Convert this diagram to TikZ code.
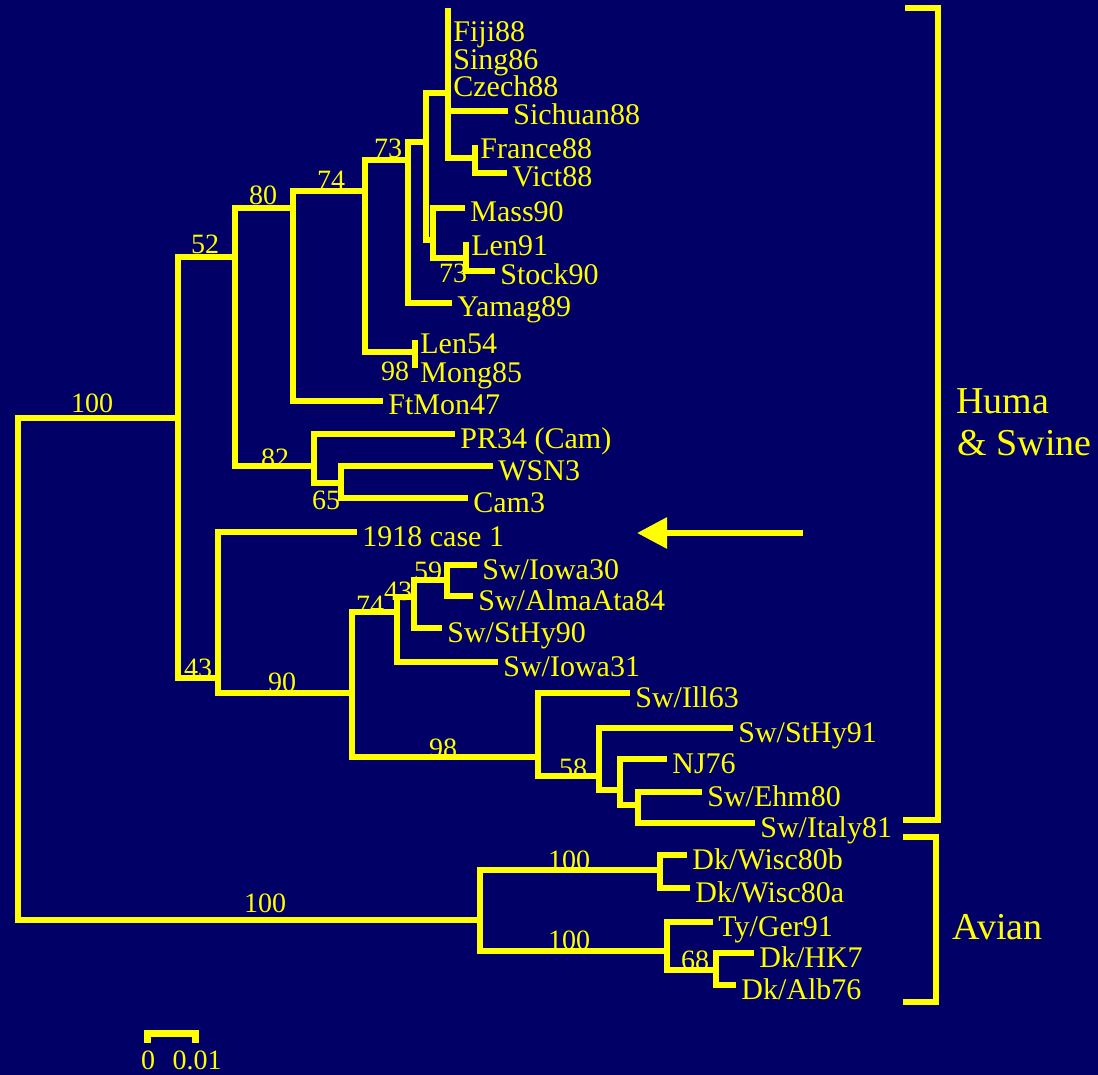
\documentclass[tikz,border=0pt]{standalone}
\usepackage{fontspec}
\setmainfont{Liberation Serif}
\usetikzlibrary{arrows.meta}
\definecolor{navybg}{RGB}{0,0,102}
\definecolor{treeyellow}{RGB}{255,255,0}
\newcommand{\leaf}[4]{%
	\coordinate (#1) at (#2,#3);
	\node[leaf] (#1-l) at (#1) {#4};
}
\newcommand{\clade}[2]{%
	\foreach \kid in {#2}{
		\draw[branch] (#1) |- (\kid);}
}

\begin{document}
\begin{tikzpicture}[x=0.5pt,y=-0.5pt,
	branch/.style={draw=treeyellow, line width=3.2pt, line join=miter},
	leaf/.style={anchor=base west, inner sep=0pt, xshift=2.5pt, yshift=-7pt,
		text=treeyellow, font=\fontsize{15}{15}\selectfont},
	boot/.style={inner sep=0pt, text=treeyellow, font=\fontsize{14}{14}\selectfont},
	grouplabel/.style={anchor=west, inner sep=0pt, text=treeyellow,
		font=\fontsize{19}{19}\selectfont},
	bracket/.style={draw=treeyellow, line width=3pt, line join=miter}]
	\useasboundingbox (0,0) rectangle (1098,1075);
	\fill[navybg] (0,0) rectangle (1098,1075);
	\foreach \bx/\by/\bv [count=\i] in {92/403/100, 205/244/52, 263/195/80,
		331/180/74, 388/148/73, 453/273/73, 395/371/98, 275/458/82, 326/500/65,
		198/668/43, 282/682/90, 370/605/74, 398/591/43, 428/571/59, 443/748/98,
		573/768/58, 265/903/100, 569/860/100, 569/940/100, 695/960/68}{
		\node[boot] (b\i) at (\bx,\by) {\bv};}
	\leaf{fiji}{448}{28}{Fiji88}
	\leaf{sing}{448}{56}{Sing86}
	\leaf{czech}{448}{83}{Czech88}
	\leaf{sich}{508}{111}{Sichuan88}
	\leaf{fra}{475}{145}{France88}
	\leaf{vict}{507}{173}{Vict88}
	\leaf{mass}{465}{208}{Mass90}
	\leaf{lenb}{466}{242}{Len91}
	\leaf{stock}{495}{271}{Stock90}
	\leaf{yam}{452}{303}{Yamag89}
	\leaf{lena}{415}{340}{Len54}
	\leaf{mong}{415}{368}{Mong85}
	\leaf{ftmon}{383}{401}{FtMon47}
	\leaf{pr}{455}{434}{PR34 (Cam)}
	\leaf{wsn}{493}{466}{WSN3}
	\leaf{cam}{468}{498}{Cam3}
	\leaf{flu}{357}{532}{1918 case 1}
	\leaf{iowa}{477}{565}{Sw/Iowa30}
	\leaf{alma}{473}{596}{Sw/AlmaAta84}
	\leaf{sthya}{442}{628}{Sw/StHy90}
	\leaf{iowb}{498}{662}{Sw/Iowa31}
	\leaf{ill}{630}{693}{Sw/Ill63}
	\leaf{sthyb}{733}{728}{Sw/StHy91}
	\leaf{nj}{667}{759}{NJ76}
	\leaf{ehm}{702}{792}{Sw/Ehm80}
	\leaf{italy}{755}{823}{Sw/Italy81}
	\leaf{wiscb}{687}{855}{Dk/Wisc80b}
	\leaf{wisca}{690}{888}{Dk/Wisc80a}
	\leaf{ger}{713}{922}{Ty/Ger91}
	\leaf{hk}{754}{953}{Dk/HK7}
	\leaf{alb}{736}{985}{Dk/Alb76}
	\coordinate (root) at (18,669);
	\coordinate (n178) at (178,418);
	\coordinate (n480) at (480,920);
	\coordinate (n235) at (235,257);
	\coordinate (n218) at (218,678);
	\coordinate (n293) at (293,208);
	\coordinate (n314) at (314,466);
	\coordinate (n365) at (365,191);
	\coordinate (n408) at (408,160);
	\coordinate (n415) at (415,352);
	\coordinate (n426) at (426,142);
	\coordinate (n448) at (448,93);
	\coordinate (ptop) at (448,8);
	\coordinate (n475) at (475,158);
	\coordinate (n433) at (433,240);
	\coordinate (n466) at (466,258);
	\coordinate (n341) at (341,483);
	\coordinate (n352) at (352,693);
	\coordinate (n397) at (397,612);
	\coordinate (n414) at (414,597);
	\coordinate (n447) at (447,580);
	\coordinate (n538) at (538,757);
	\coordinate (n599) at (599,776);
	\coordinate (n620) at (620,790);
	\coordinate (n638) at (638,805);
	\coordinate (n660) at (660,870);
	\coordinate (n667) at (667,951);
	\coordinate (n716) at (716,970);
	\clade{root}{n178,n480}
	\clade{n178}{n235,n218}
	\clade{n235}{n293,n314}
	\clade{n293}{n365,ftmon}
	\clade{n365}{n408,n415}
	\clade{n415}{lena,mong}
	\clade{n408}{n426,yam}
	\clade{n426}{n448,n433}
	\clade{n448}{ptop,fiji,sing,czech,sich,n475}
	\clade{n475}{fra,vict}
	\clade{n433}{mass,n466}
	\clade{n466}{lenb,stock}
	\clade{n314}{pr,n341}
	\clade{n341}{wsn,cam}
	\clade{n218}{flu,n352}
	\clade{n352}{n397,n538}
	\clade{n397}{n414,iowb}
	\clade{n414}{n447,sthya}
	\clade{n447}{iowa,alma}
	\clade{n538}{ill,n599}
	\clade{n599}{sthyb,n620}
	\clade{n620}{nj,n638}
	\clade{n638}{ehm,italy}
	\clade{n480}{n660,n667}
	\clade{n660}{wiscb,wisca}
	\clade{n667}{ger,n716}
	\clade{n716}{hk,alb}
	\coordinate (arrtail) at (803,533);
	\coordinate (arrhead) at (637,533);
	\draw[treeyellow, line width=3pt, -{Triangle[length=15pt,width=15pt]}] (arrtail) -- (arrhead);
	\draw[bracket] (905,8) -- (938,8) -- (938,820) -- (903,820);
	\draw[bracket] (903,837) -- (936,837) -- (936,1002) -- (903,1002);
	\node[grouplabel] (huma) at (956,401) {Huma};
	\node[grouplabel] (swine) at (957,443) {\& Swine};
	\node[grouplabel] (avian) at (952,927) {Avian};
	\coordinate (sbl) at (147,1043);
	\coordinate (sbr) at (195,1043);
	\draw[branch, line width=3.5pt] (sbl) -- ++(0,-9.5) -| (sbr);
	\node[boot] (sb0) at (148,1060) {0};
	\node[boot] (sb1) at (197,1060) {0.01};
\end{tikzpicture}
\end{document}
